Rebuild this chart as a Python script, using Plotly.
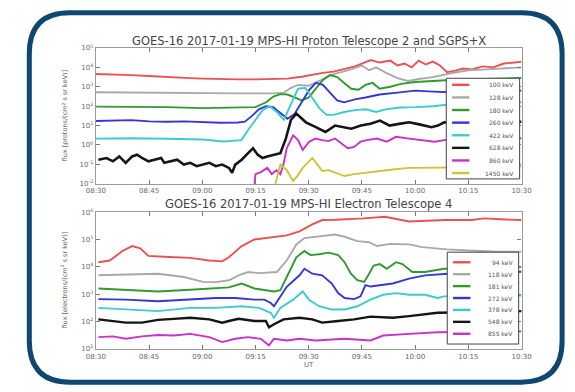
import re
import plotly.graph_objects as go

# ---- time axis (minutes after 08:30 UT) ----
time_ticks = [0, 15, 30, 45, 60, 75, 90, 105, 120]
time_labels = ["08:30", "08:45", "09:00", "09:15", "09:30", "09:45", "10:00", "10:15", "10:30"]

# ---- proton telescope: log10(flux) per energy channel ----
p100_t = [0, 5, 10, 15, 20, 25, 30, 35, 40, 45, 50, 54, 58, 61, 64, 67, 70, 73, 75, 77.5, 80, 83, 85, 87, 89, 91, 93, 95, 97, 99, 101, 103.5, 106, 109, 112, 115, 118, 120]
p100_v = [3.66, 3.64, 3.6, 3.56, 3.5, 3.46, 3.42, 3.39, 3.38, 3.38, 3.39, 3.42, 3.52, 3.62, 3.72, 3.78, 3.9, 4.05, 4.2, 4.38, 4.25, 4.35, 4.1, 4.2, 4.0, 4.35, 4.15, 4.3, 4.1, 3.75, 3.82, 3.94, 3.9, 4.05, 4.0, 4.2, 4.25, 4.3]

p128_t = [0, 10, 20, 30, 40, 50, 53, 55, 57, 60, 63, 66, 69, 72, 75, 77, 79, 82, 85, 88, 91, 95, 100, 105, 110, 115, 120]
p128_v = [2.72, 2.7, 2.68, 2.66, 2.66, 2.66, 2.7, 2.95, 3.1, 3.05, 3.3, 3.6, 3.75, 3.9, 4.1, 3.85, 4.0, 3.7, 3.45, 3.3, 3.4, 3.5, 3.7, 3.85, 3.9, 3.95, 4.0]

p180_t = [0, 10, 20, 30, 40, 45, 48, 50, 52, 54, 56, 58, 60, 62, 64, 66, 68, 70, 72, 74, 76, 78, 80, 83, 86, 90, 95, 100, 110, 120]
p180_v = [1.98, 1.97, 1.95, 1.9, 1.92, 1.95, 2.2, 2.5, 2.62, 2.6, 2.45, 2.3, 2.45, 2.9, 3.35, 3.6, 3.5, 3.2, 2.9, 2.85, 3.1, 3.2, 2.9, 3.0, 3.15, 3.25, 3.3, 3.35, 3.4, 3.45]

p260_t = [0, 5, 10, 15, 20, 25, 30, 35, 40, 42, 44, 46, 48, 50, 52, 54, 56, 58, 60, 62, 64, 66, 68, 70, 73, 76, 80, 85, 90, 95, 100, 110, 120]
p260_v = [1.24, 1.25, 1.28, 1.22, 1.2, 1.22, 1.18, 1.15, 1.16, 1.2, 1.5, 1.85, 2.0, 1.95, 1.65, 1.35, 1.6, 2.2, 2.8, 3.2, 3.1, 2.7, 2.3, 2.2, 2.35, 2.45, 2.6, 2.7, 2.8, 2.75, 2.72, 2.75, 2.8]

p422_t = [0, 10, 20, 30, 36, 40, 41, 43, 45, 47, 49, 51, 53, 55, 57, 59, 61, 63, 65, 67, 70, 73, 76, 79, 82, 86, 90, 95, 100, 110, 120]
p422_v = [0.33, 0.35, 0.32, 0.28, 0.18, 0.22, 0.25, 0.8, 1.3, 1.8, 2.0, 1.7, 1.3, 2.1, 2.9, 2.95, 2.4, 1.9, 1.55, 1.55, 1.7, 1.8, 1.84, 1.7, 1.85, 1.93, 1.95, 2.0, 2.1, 2.15, 2.2]

p628_t = [0.7, 3.0, 4.8, 6.6, 8.4, 10.2, 11.6, 13.0, 14.8, 16.6, 18.4, 19.3, 21.1, 22.9, 24.8, 26.6, 28.4, 30.2, 32.0, 33.8, 35.6, 37.5, 38.4, 39.3, 41.1, 42.9, 44.3, 45.6, 47.0, 48.3, 50.2, 52.0, 53.5, 55.0, 56.5, 59.2, 62.0, 64.7, 67.4, 70.0, 72.0, 74.7, 77.4, 80.1, 82.8, 85.5, 88.3, 91.5, 94.6, 96.4, 98.2, 105, 112, 120]
p628_v = [-0.76, -0.67, -0.84, -0.59, -0.92, -0.59, -0.5, -0.67, -0.84, -0.76, -0.67, -0.92, -0.84, -0.76, -1.01, -0.92, -1.09, -1.01, -0.92, -1.09, -1.01, -1.18, -1.43, -1.01, -0.76, -0.42, -0.17, -0.5, -0.67, -0.59, -0.5, -0.42, 0.3, 1.3, 1.62, 1.17, 0.92, 0.67, 1.0, 0.92, 0.84, 1.0, 1.09, 1.26, 1.0, 1.09, 1.17, 1.05, 0.92, 1.0, 1.17, 1.1, 1.15, 1.2]

p860_t = [44.5, 45.0, 46.5, 48.3, 49.6, 50.9, 52.0, 53.0, 53.8, 55.6, 57.0, 58.3, 60.1, 61.9, 63.8, 65.5, 67.4, 69.2, 71.0, 72.8, 74.6, 76.4, 79.2, 82.0, 84.6, 88.3, 92.0, 95.5, 98.2, 105, 112, 120]
p860_v = [-2.3, -1.5, -1.4, -1.18, -1.5, -1.3, -1.5, -0.9, -0.17, 0.5, 0.25, -0.25, 0.17, 0.33, 0.25, 0.2, 0.33, 0.1, -0.17, -0.1, 0.17, 0.25, 0.33, 0.17, 0.42, 0.33, 0.25, 0.17, 0.25, 0.3, 0.3, 0.35]

p1450_t = [50.2, 52.0, 53.8, 55.6, 57.0, 58.3, 60.1, 61.0, 62.4, 63.8, 65.6, 67.4, 70.1, 72.8, 75.6, 79.2, 83.7, 88.3, 93.0, 98.2, 110, 120]
p1450_v = [-2.3, -1.01, -1.3, -1.85, -1.55, -1.18, -0.84, -0.67, -1.0, -1.34, -1.3, -1.43, -1.6, -1.5, -1.43, -1.34, -1.26, -1.18, -1.18, -1.18, -1.15, -1.1]

# ---- electron telescope: log10(flux) per energy channel ----
e94_t = [0.7, 3.9, 7.5, 10.2, 12.5, 14.8, 20.6, 26.6, 32.0, 35.6, 37.5, 41.1, 44.7, 49.3, 53.8, 57.4, 61.0, 63.8, 67.5, 75.5, 81.5, 88.3, 98.4, 106, 109.4, 115.5, 120]
e94_v = [4.17, 4.23, 4.58, 4.76, 4.68, 4.4, 4.36, 4.33, 4.23, 4.2, 4.35, 4.76, 5.0, 5.08, 5.15, 5.3, 5.55, 5.71, 5.72, 5.77, 5.83, 5.66, 5.71, 5.71, 5.77, 5.73, 5.71]

e118_t = [0.7, 8.0, 17.5, 24.8, 30.2, 33.8, 37.5, 40.2, 42.9, 46.0, 49.3, 51.0, 53.8, 56.5, 58.8, 62.0, 67.4, 70.1, 73.7, 77.0, 79.2, 83.0, 88.3, 92.0, 99.0, 105, 112, 120]
e118_v = [3.69, 3.72, 3.75, 3.63, 3.45, 3.44, 3.51, 3.69, 3.81, 3.77, 3.81, 3.81, 4.23, 4.82, 5.05, 5.1, 5.18, 5.1, 4.94, 4.9, 4.76, 4.84, 4.82, 4.72, 4.64, 4.6, 4.56, 4.55]

e181_t = [0.7, 8.4, 17.5, 26.6, 33.8, 37.5, 41.1, 44.7, 50.2, 52.0, 53.8, 56.5, 58.8, 60.5, 62.9, 65.6, 68.3, 70.1, 71.9, 73.7, 75.6, 76.5, 78.3, 80.1, 82.0, 84.6, 86.4, 89.2, 92.8, 96.3, 98.2, 105, 112, 120]
e181_v = [3.21, 3.16, 3.1, 3.16, 3.21, 3.25, 3.39, 3.21, 3.1, 3.15, 3.63, 4.35, 4.58, 4.43, 4.46, 4.52, 4.43, 4.17, 3.75, 3.51, 3.45, 3.63, 4.05, 4.1, 3.93, 4.17, 4.1, 3.81, 3.81, 3.87, 3.93, 3.95, 3.97, 4.0]

e272_t = [0.7, 8.4, 17.5, 26.6, 33.8, 39.3, 44.7, 47.5, 49.3, 50.2, 52.0, 53.8, 57.4, 58.8, 61.0, 63.8, 66.5, 68.3, 70.1, 72.8, 74.6, 76.0, 77.4, 80.1, 83.7, 88.3, 92.8, 99.2, 105, 112, 120]
e272_v = [2.82, 2.8, 2.74, 2.8, 2.86, 2.86, 2.8, 2.8, 2.68, 2.56, 2.92, 3.27, 3.69, 3.93, 3.75, 3.69, 3.39, 3.04, 2.86, 2.82, 2.92, 3.33, 3.28, 3.33, 3.39, 3.57, 3.69, 3.75, 3.78, 3.8, 3.82]

e378_t = [0.7, 8.4, 17.5, 26.6, 33.8, 41.1, 46.0, 49.3, 50.2, 52.0, 55.6, 58.3, 60.1, 62.9, 66.5, 70.1, 73.7, 77.4, 81.0, 84.6, 88.3, 92.8, 96.3, 98.2, 105, 112, 120]
e378_v = [2.5, 2.44, 2.38, 2.5, 2.5, 2.56, 2.5, 2.32, 2.14, 2.5, 2.8, 3.1, 2.8, 2.56, 2.44, 2.44, 2.56, 2.8, 2.98, 3.04, 2.98, 2.98, 2.86, 2.92, 2.92, 2.94, 2.95]

e548_t = [0.7, 4.8, 8.4, 13.0, 17.5, 22.0, 26.6, 32.0, 35.6, 37.5, 40.2, 44.7, 47.9, 48.8, 50.2, 52.9, 57.4, 61.0, 63.8, 68.3, 72.8, 77.4, 83.7, 88.3, 92.8, 96.3, 105, 112, 120]
e548_v = [2.08, 2.02, 1.96, 1.96, 2.06, 2.1, 2.14, 2.08, 1.96, 2.02, 2.1, 2.02, 2.02, 1.79, 1.9, 2.08, 2.14, 2.08, 1.96, 2.02, 2.08, 2.18, 2.14, 2.2, 2.26, 2.32, 2.34, 2.36, 2.38]

e855_t = [0.7, 4.8, 8.4, 13.0, 17.5, 22.0, 26.6, 32.0, 35.6, 39.3, 42.9, 46.5, 48.8, 50.2, 53.8, 57.4, 62.0, 70.1, 77.4, 81.0, 88.3, 96.3, 105, 112, 120]
e855_v = [1.43, 1.46, 1.37, 1.46, 1.51, 1.49, 1.55, 1.43, 1.25, 1.37, 1.43, 1.37, 1.13, 1.37, 1.31, 1.37, 1.31, 1.37, 1.31, 1.49, 1.55, 1.61, 1.62, 1.63, 1.64]

proton_series = [
    ("100 keV", p100_t, p100_v, "#ec5050"),
    ("128 keV", p128_t, p128_v, "#a9a9a9"),
    ("180 keV", p180_t, p180_v, "#2f9a2f"),
    ("260 keV", p260_t, p260_v, "#3535d8"),
    ("422 keV", p422_t, p422_v, "#3ccccc"),
    ("628 keV", p628_t, p628_v, "#151515"),
    ("860 keV", p860_t, p860_v, "#c832c8"),
    ("1450 keV", p1450_t, p1450_v, "#c8c834"),
]
electron_series = [
    ("94 keV", e94_t, e94_v, "#ec5050"),
    ("118 keV", e118_t, e118_v, "#a9a9a9"),
    ("181 keV", e181_t, e181_v, "#2f9a2f"),
    ("272 keV", e272_t, e272_v, "#3535d8"),
    ("378 keV", e378_t, e378_v, "#3ccccc"),
    ("548 keV", e548_t, e548_v, "#151515"),
    ("855 keV", e855_t, e855_v, "#c832c8"),
]

proton_decades = [-2, -1, 0, 1, 2, 3, 4, 5]
electron_decades = [1, 2, 3, 4, 5, 6]

W, H = 575, 392


def px(x):
    return x / W


def py(y):
    return 1 - y / H


fig = go.Figure()

for name, t, v, c in proton_series:
    fig.add_trace(go.Scatter(x=t, y=[10 ** a for a in v], mode="lines", name=name,
                             line=dict(color=c, width=2.6 if c == "#151515" else 1.9),
                             xaxis="x", yaxis="y", showlegend=False))
for name, t, v, c in electron_series:
    fig.add_trace(go.Scatter(x=t, y=[10 ** a for a in v], mode="lines", name=name,
                             line=dict(color=c, width=2.4 if c == "#151515" else 1.9),
                             xaxis="x2", yaxis="y2", showlegend=False))

axis_common = dict(showgrid=False, zeroline=False, showline=True, linecolor="#9a9a9a",
                   linewidth=1.4, mirror="ticks", ticks="inside", ticklen=4,
                   tickcolor="#777", tickfont=dict(size=7, color="#666", family="DejaVu Sans"))

xdom = [px(89), px(530)]
fig.update_layout(
    width=W, height=H, margin=dict(l=0, r=0, t=0, b=0),
    paper_bgcolor="white", plot_bgcolor="white", showlegend=False,
    xaxis=dict(domain=xdom, range=[0, 120], anchor="y", tickvals=time_ticks,
               ticktext=time_labels, **axis_common),
    yaxis=dict(domain=[py(183), py(44)], type="log", range=[-2, 5], anchor="x",
               tickvals=[10 ** d for d in proton_decades],
               ticktext=["10<sup>%d</sup>" % d for d in proton_decades], **axis_common),
    xaxis2=dict(domain=xdom, range=[0, 120], anchor="y2", tickvals=time_ticks,
                ticktext=time_labels, **axis_common),
    yaxis2=dict(domain=[py(352), py(212)], type="log", range=[1, 6], anchor="x2",
                tickvals=[10 ** d for d in electron_decades],
                ticktext=["10<sup>%d</sup>" % d for d in electron_decades], **axis_common),
)


def boxed_legend(series, box, first_y, step):
    """Compact matplotlib-style legend: white box, line sample, right-aligned label."""
    bx0, by0, bx1, by1 = box
    fig.add_shape(type="rect", xref="paper", yref="paper", layer="above",
                  x0=px(bx0), x1=px(bx1), y0=py(by1), y1=py(by0),
                  fillcolor="white", line=dict(color="#444", width=1))
    for i, (name, _t, _v, c) in enumerate(series):
        yy = first_y + i * step
        fig.add_shape(type="line", xref="paper", yref="paper", layer="above",
                      x0=px(bx0 + 6), x1=px(bx0 + 24), y0=py(yy), y1=py(yy),
                      line=dict(color=c, width=2.4))
        fig.add_annotation(x=px(bx1 - 4), y=py(yy), xref="paper", yref="paper",
                           xanchor="right", yanchor="middle", showarrow=False, text=name,
                           font=dict(size=6, color="#555", family="DejaVu Sans"))


boxed_legend(proton_series, (452, 75, 528, 178), 81.7, 12.9)
boxed_legend(electron_series, (453, 253, 527, 347), 263.3, 12.2)

title_font = dict(size=11.5, color="#444", family="DejaVu Sans")
label_font = dict(size=6.5, color="#666", family="DejaVu Sans")
fig.add_annotation(x=px(309.5), y=py(37), xref="paper", yref="paper", showarrow=False,
                   xanchor="center", yanchor="middle",
                   text="GOES-16 2017-01-19 MPS-HI Proton Telescope 2 and SGPS+X", font=title_font)
fig.add_annotation(x=px(309.5), y=py(204), xref="paper", yref="paper", showarrow=False,
                   xanchor="center", yanchor="middle",
                   text="GOES-16 2017-01-19 MPS-HI Electron Telescope 4", font=title_font)
fig.add_annotation(x=px(309.5), y=py(368), xref="paper", yref="paper", showarrow=False,
                   xanchor="center", yanchor="middle",
                   text="UT", font=dict(size=7, color="#666", family="DejaVu Sans"))
fig.add_annotation(x=px(57), y=py(113), xref="paper", yref="paper", showarrow=False, textangle=-90,
                   xanchor="center", yanchor="middle",
                   text="flux [protons/(cm<sup>2</sup> s sr keV)]", font=label_font)
fig.add_annotation(x=px(57), y=py(282), xref="paper", yref="paper", showarrow=False, textangle=-90,
                   xanchor="center", yanchor="middle",
                   text="flux [electrons/(cm<sup>2</sup> s sr keV)]", font=label_font)

# rounded navy frame around the panel
x0, x1, y0, y1, r = 20, 572, 8, 386, 42
path = (f"M {x0+r},{y0} L {x1-r},{y0} Q {x1},{y0} {x1},{y0+r} L {x1},{y1-r} "
        f"Q {x1},{y1} {x1-r},{y1} L {x0+r},{y1} Q {x0},{y1} {x0},{y1-r} "
        f"L {x0},{y0+r} Q {x0},{y0} {x0+r},{y0} Z")


def to_paper(m):
    a, b = float(m.group(1)), float(m.group(2))
    return f"{px(a):.5f},{py(b):.5f}"


paper_path = re.sub(r"([\d.]+),([\d.]+)", to_paper, path)
fig.add_shape(type="path", path=paper_path, xref="paper", yref="paper",
              line=dict(color="#0f4672", width=5), fillcolor="rgba(0,0,0,0)", layer="above")

fig.write_html("out.html")
